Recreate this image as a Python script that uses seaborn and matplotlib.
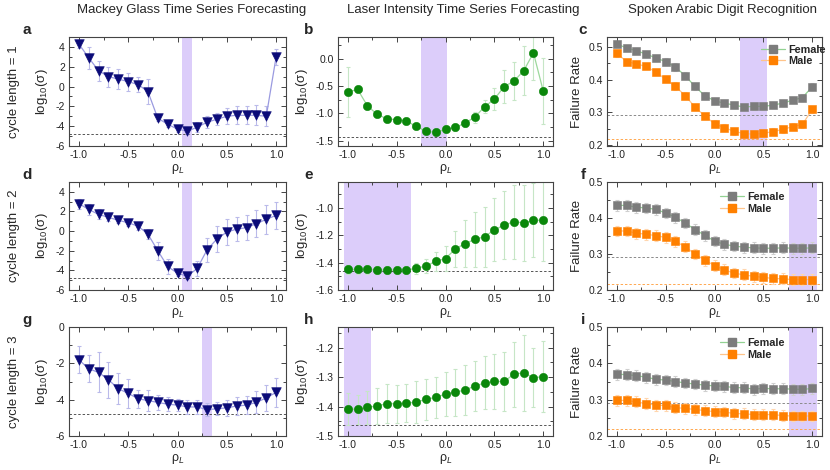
import numpy as np
import matplotlib
matplotlib.use("Agg")
import matplotlib.pyplot as plt
from matplotlib.lines import Line2D
from matplotlib.ticker import MultipleLocator
import seaborn as sns


# ============================================================
# DATA
# ============================================================

rho = [-1.0, -0.9, -0.8, -0.7, -0.6, -0.5, -0.4, -0.3, -0.2, -0.1, 0.0,
       0.1, 0.2, 0.3, 0.4, 0.5, 0.6, 0.7, 0.8, 0.9, 1.0]

col_titles = ["Mackey Glass Time Series Forecasting",
              "Laser Intensity Time Series Forecasting",
              "Spoken Arabic Digit Recognition"]
row_titles = ["cycle length = 1", "cycle length = 2", "cycle length = 3"]
panel_letters = ["a", "b", "c", "d", "e", "f", "g", "h", "i"]

# Mackey Glass, log10(sigma)
mg_c1 = [4.3, 2.9, 1.6, 1.0, 0.75, 0.5, 0.2, -0.5, -3.2, -3.8, -4.3,
         -4.5, -4.1, -3.6, -3.3, -3.0, -2.9, -2.9, -2.9, -3.0, 3.0]
mg_c1_err = [0.4, 1.1, 1.0, 1.0, 1.0, 0.9, 0.8, 1.3, 0.3, 0.3, 0.3,
             0.3, 0.5, 0.6, 0.6, 0.8, 0.9, 0.9, 1.0, 1.0, 0.8]
mg_c2 = [2.8, 2.2, 1.7, 1.4, 1.1, 0.85, 0.5, -0.3, -2.0, -3.6, -4.3,
         -4.6, -3.8, -1.9, -0.8, -0.1, 0.2, 0.35, 0.75, 1.2, 1.6]
mg_c2_err = [0.5, 0.6, 0.5, 0.4, 0.3, 0.3, 0.4, 0.5, 0.9, 0.8, 0.3,
             0.3, 0.8, 1.2, 1.3, 1.3, 1.2, 1.3, 1.4, 1.5, 1.4]
mg_c3 = [-1.8, -2.3, -2.5, -2.9, -3.4, -3.65, -3.95, -4.05, -4.15, -4.25, -4.3,
         -4.4, -4.4, -4.55, -4.5, -4.45, -4.35, -4.3, -4.15, -3.9, -3.6]
mg_c3_err = [0.75, 0.75, 1.1, 1.0, 0.85, 0.8, 0.5, 0.6, 0.4, 0.4, 0.35,
             0.4, 0.4, 0.35, 0.35, 0.45, 0.5, 0.5, 0.6, 0.7, 0.8]
mg_ref = -4.8
mg_best = [(0.05, 0.15), (0.05, 0.15), (0.25, 0.35)]

# Laser intensity, log10(sigma)
li_c1 = [-0.61, -0.56, -0.86, -1.02, -1.10, -1.12, -1.14, -1.24, -1.33, -1.35, -1.29,
         -1.26, -1.18, -1.07, -0.88, -0.74, -0.51, -0.41, -0.22, 0.11, -0.59]
li_c1_err = [0.46, 0.03, 0.03, 0.03, 0.03, 0.03, 0.03, 0.03, 0.03, 0.04, 0.05,
             0.07, 0.08, 0.1, 0.12, 0.2, 0.3, 0.35, 0.45, 0.5, 0.6]
li_c2 = [-1.45, -1.45, -1.45, -1.455, -1.455, -1.455, -1.455, -1.44, -1.425, -1.39, -1.37,
         -1.30, -1.26, -1.23, -1.21, -1.16, -1.125, -1.10, -1.11, -1.09, -1.09]
li_c2_err = [0.03, 0.03, 0.03, 0.03, 0.03, 0.03, 0.03, 0.04, 0.05, 0.07, 0.09,
             0.13, 0.17, 0.2, 0.22, 0.23, 0.25, 0.27, 0.28, 0.27, 0.3]
li_c3 = [-1.408, -1.41, -1.403, -1.398, -1.39, -1.391, -1.389, -1.385, -1.375, -1.369, -1.357,
         -1.351, -1.344, -1.330, -1.320, -1.315, -1.315, -1.290, -1.286, -1.302, -1.299]
li_c3_err = [0.055, 0.05, 0.055, 0.06, 0.065, 0.065, 0.065, 0.07, 0.07, 0.07, 0.075,
             0.08, 0.085, 0.085, 0.09, 0.095, 0.1, 0.11, 0.13, 0.1, 0.12]
li_ref = [-1.44, -1.46, -1.462]
li_best = [(-0.25, 0.02), (-1.04, -0.35), (-1.04, -0.76)]

# Spoken Arabic digits, failure rate
female_c1 = [0.508, 0.497, 0.488, 0.478, 0.466, 0.455, 0.438, 0.412, 0.379, 0.351, 0.335,
             0.328, 0.322, 0.316, 0.318, 0.318, 0.322, 0.328, 0.337, 0.345, 0.378]
male_c1 = [0.480, 0.455, 0.448, 0.440, 0.423, 0.401, 0.379, 0.351, 0.316, 0.289, 0.265,
           0.253, 0.242, 0.235, 0.233, 0.236, 0.241, 0.248, 0.256, 0.263, 0.309]
female_c2 = [0.435, 0.435, 0.430, 0.428, 0.424, 0.414, 0.402, 0.386, 0.368, 0.352, 0.336,
             0.327, 0.322, 0.319, 0.317, 0.316, 0.316, 0.317, 0.316, 0.316, 0.317]
male_c2 = [0.364, 0.364, 0.358, 0.355, 0.351, 0.346, 0.335, 0.320, 0.300, 0.283, 0.268,
           0.256, 0.247, 0.242, 0.238, 0.235, 0.232, 0.231, 0.229, 0.229, 0.229]
female_c3 = [0.370, 0.369, 0.366, 0.362, 0.356, 0.354, 0.350, 0.346, 0.343, 0.340, 0.338,
             0.337, 0.333, 0.333, 0.329, 0.331, 0.330, 0.330, 0.329, 0.328, 0.331]
male_c3 = [0.298, 0.298, 0.294, 0.289, 0.285, 0.284, 0.278, 0.276, 0.273, 0.270, 0.267,
           0.266, 0.262, 0.261, 0.259, 0.259, 0.259, 0.256, 0.255, 0.255, 0.255]
sad_err = [0.01, 0.008, 0.008, 0.008, 0.01, 0.01, 0.012, 0.01, 0.01, 0.01, 0.01,
           0.01, 0.01, 0.01, 0.01, 0.01, 0.01, 0.01, 0.01, 0.01, 0.01]
sad_err_wide = [0.015] * 21
female_ref = 0.291
male_ref = 0.218
sad_best = [(0.26, 0.54), (0.76, 1.05), (0.76, 1.05)]

# ============================================================
# STYLE
# ============================================================

NAVY, NAVY_LINE, NAVY_ERR = "#0b0b78", "#9a9ae0", "#babaea"
GREEN, GREEN_LINE, GREEN_ERR = "#0a870a", "#9cd89c", "#c6e6c6"
GREY, GREY_LINE, GREY_ERR = "#7c7c7c", "#92d292", "#cfcfcf"
ORANGE, ORANGE_LINE, ORANGE_ERR = "#ff8000", "#ffc48a", "#ffd6ae"
SPAN = "#dccdfa"

sns.set_theme(style="ticks", rc={
    "axes.edgecolor": "#444444",
    "axes.linewidth": 0.8,
    "xtick.color": "#444444",
    "ytick.color": "#444444",
    "xtick.labelcolor": "#222222",
    "ytick.labelcolor": "#222222",
    "axes.unicode_minus": False,
})
plt.rcParams["font.family"] = ["Liberation Sans", "DejaVu Sans"]
plt.rcParams["mathtext.fontset"] = "custom"
plt.rcParams["mathtext.rm"] = "Liberation Sans"
plt.rcParams["mathtext.it"] = "Liberation Sans:italic"

W, H = 830, 470
fig = plt.figure(figsize=(W / 100, H / 100), dpi=100)

col_px = [(69, 286), (338, 553), (607, 822)]
row_px = [(37, 146), (182, 290), (327, 436)]


def make_ax(r, c):
    l, rr = col_px[c]
    t, b = row_px[r]
    return fig.add_axes([l / W, 1 - b / H, (rr - l) / W, (b - t) / H])


def style_ax(ax, ylim, ymaj):
    ax.set_xlim(-1.1, 1.1)
    ax.set_ylim(*ylim)
    ax.xaxis.set_major_locator(MultipleLocator(0.5))
    ax.xaxis.set_minor_locator(MultipleLocator(0.25))
    ax.yaxis.set_major_locator(MultipleLocator(ymaj))
    ax.yaxis.set_minor_locator(MultipleLocator(ymaj / 2))
    ax.tick_params(which="both", direction="in", top=True, right=True,
                   labelsize=7.5, width=0.7)
    ax.tick_params(which="major", length=3.5, pad=3)
    ax.tick_params(which="minor", length=2)
    ax.set_xlabel("ρ$_{L}$", fontsize=9, labelpad=1)
    for s in ax.spines.values():
        s.set_visible(True)


def draw_series(ax, y, err, marker, size, face, line_col, err_col):
    ax.errorbar(rho, y, yerr=err, fmt="none", ecolor=err_col,
                elinewidth=0.8, capsize=1.5, capthick=0.8, zorder=2)
    sns.lineplot(x=rho, y=y, ax=ax, color=line_col, linewidth=0.9, zorder=3)
    sns.scatterplot(x=rho, y=y, ax=ax, marker=marker, s=size, color=face,
                    edgecolor=face, linewidth=0.4, zorder=4)


mg_data = [(mg_c1, mg_c1_err), (mg_c2, mg_c2_err), (mg_c3, mg_c3_err)]
li_data = [(li_c1, li_c1_err), (li_c2, li_c2_err), (li_c3, li_c3_err)]
sad_data = [(female_c1, male_c1, sad_err), (female_c2, male_c2, sad_err_wide),
            (female_c3, male_c3, sad_err_wide)]
mg_ylims = [(-6, 5), (-6, 5), (-6, 0)]
li_ylims = [(-1.6, 0.4), (-1.6, -0.81), (-1.5, -1.13)]
li_ymaj = [0.5, 0.2, 0.1]
sad_ylims = [(0.197, 0.53), (0.2, 0.5), (0.2, 0.5)]
legend_pos = [(0.715, 0.93), (0.526, 0.907), (0.526, 0.9)]

for r in range(3):
    # Mackey Glass
    ax = make_ax(r, 0)
    ax.axvspan(*mg_best[r], color=SPAN, lw=0, zorder=0.5)
    ax.axhline(mg_ref, color="#555555", lw=0.7, ls=(0, (2.5, 2)), zorder=1)
    draw_series(ax, mg_data[r][0], mg_data[r][1], "v", 48, NAVY, NAVY_LINE, NAVY_ERR)
    style_ax(ax, mg_ylims[r], 2)
    ax.set_ylabel("log$_{10}$(σ)", fontsize=9.5, labelpad=4)

    # Laser
    ax = make_ax(r, 1)
    ax.axvspan(*li_best[r], color=SPAN, lw=0, zorder=0.5)
    ax.axhline(li_ref[r], color="#555555", lw=0.7, ls=(0, (2.5, 2)), zorder=1)
    draw_series(ax, li_data[r][0], li_data[r][1], "o", 36, GREEN, GREEN_LINE, GREEN_ERR)
    style_ax(ax, li_ylims[r], li_ymaj[r])
    ax.set_ylabel("log$_{10}$(σ)", fontsize=9.5, labelpad=4)

    # Spoken Arabic digits
    ax = make_ax(r, 2)
    ax.axvspan(*sad_best[r], color=SPAN, lw=0, zorder=0.5)
    ax.axhline(female_ref, color="#8a8a8a", lw=0.7, ls=(0, (2.5, 2)), zorder=1)
    ax.axhline(male_ref, color="#ffa850", lw=0.7, ls=(0, (2.5, 2)), zorder=1)
    fem, mal, err = sad_data[r]
    draw_series(ax, fem, err, "s", 30, GREY, GREY_LINE, GREY_ERR)
    draw_series(ax, mal, err, "s", 30, ORANGE, ORANGE_LINE, ORANGE_ERR)
    style_ax(ax, sad_ylims[r], 0.1)
    ax.set_ylabel("Failure Rate", fontsize=9.5, labelpad=4)
    handles = [
        Line2D([], [], color=GREY_LINE, lw=0.9, marker="s", ms=5.5,
               markerfacecolor=GREY, markeredgecolor=GREY),
        Line2D([], [], color=ORANGE_LINE, lw=0.9, marker="s", ms=5.5,
               markerfacecolor=ORANGE, markeredgecolor=ORANGE),
    ]
    ax.legend(handles, ["Female", "Male"], loc="upper left",
              bbox_to_anchor=legend_pos[r], frameon=False, borderpad=0,
              borderaxespad=0, handlelength=2.2, handletextpad=0.3,
              labelspacing=0.15, prop={"weight": "bold", "size": 7.8})

    # row label
    t, b = row_px[r]
    fig.text(14 / W, 1 - (t + b) / 2 / H, row_titles[r], rotation=90,
             ha="center", va="center", fontsize=9.5)

# panel letters
for i, letter in enumerate(panel_letters):
    r, c = divmod(i, 3)
    x = col_px[c][0] - 42 if c == 0 else col_px[c][0] - 29 if c == 1 else col_px[c][0] - 24
    y = row_px[r][0] - 7
    fig.text(x / W, 1 - y / H, letter, ha="center", va="center",
             fontsize=11, fontweight="bold")

# column titles
for x, title in zip([192, 463, 722], col_titles):
    fig.text(x / W, 1 - 10 / H, title, ha="center", va="center", fontsize=9.5)

fig.savefig("out.png", dpi=100)
plt.close(fig)
